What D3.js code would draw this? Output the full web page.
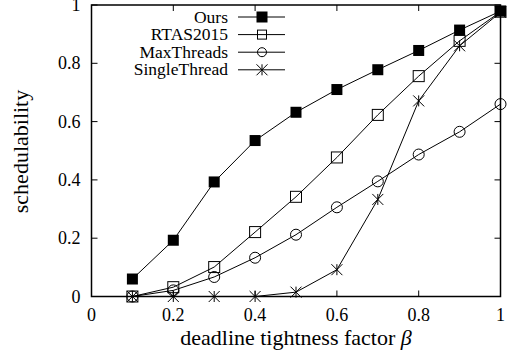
<!DOCTYPE html>
<html><head><meta charset="utf-8">
<script src="https://cdn.jsdelivr.net/npm/d3@7"></script>
<style>body{margin:0;background:#fff}svg{display:block}text{font-family:"Liberation Serif","Times New Roman",serif;fill:#000}</style>
</head><body><svg id="c" width="516" height="356"></svg>
<script>
const xs = [0.1,0.2,0.3,0.4,0.5,0.6,0.7,0.8,0.9,1.0];
const ours = [0.06,0.193,0.393,0.535,0.632,0.71,0.778,0.844,0.914,0.979];
const rtas = [0,0.032,0.101,0.221,0.342,0.477,0.623,0.756,0.877,0.977];
const maxThreads = [0,0.021,0.067,0.133,0.212,0.306,0.395,0.487,0.565,0.66];
const singleThread = [0,0,0,0,0.015,0.092,0.333,0.671,0.86,0.975];
const seriesNames = ["Ours","RTAS2015","MaxThreads","SingleThread"];
const markers = ["fsquare","square","circle","star"];
const xTicks = [0,0.2,0.4,0.6,0.8,1];
const yTicks = [0,0.2,0.4,0.6,0.8,1];
const xTitle = "deadline tightness factor ";
const yTitle = "schedulability";

const svg = d3.select("#c");
const L=91.5,R=500.5,T=5,B=296.5;
const x = d3.scaleLinear().domain([0,1]).range([L,R]);
const y = d3.scaleLinear().domain([0,1]).range([B,T]);
const fs = 18;

const g = svg.append("g");
xTicks.forEach(t=>{
  g.append("line").attr("x1",x(t)).attr("x2",x(t)).attr("y1",B).attr("y2",B-6).attr("stroke","#000");
  g.append("line").attr("x1",x(t)).attr("x2",x(t)).attr("y1",T).attr("y2",T+6).attr("stroke","#000");
  g.append("text").attr("x",x(t)).attr("y",B+24.5).attr("text-anchor","middle").attr("font-size",fs).text(d3.format("~g")(t));
});
yTicks.forEach(t=>{
  g.append("line").attr("x1",L).attr("x2",L+6).attr("y1",y(t)).attr("y2",y(t)).attr("stroke","#000");
  g.append("line").attr("x1",R).attr("x2",R-6).attr("y1",y(t)).attr("y2",y(t)).attr("stroke","#000");
  g.append("text").attr("x",L-11).attr("y",y(t)+6).attr("text-anchor","end").attr("font-size",fs).text(d3.format("~g")(t));
});
svg.append("rect").attr("x",L).attr("y",T).attr("width",R-L).attr("height",B-T).attr("fill","none").attr("stroke","#000").attr("stroke-width",1.5);

const xt = svg.append("text").attr("x",(L+R)/2).attr("y",345).attr("text-anchor","middle").attr("font-size",22).text(xTitle);
xt.append("tspan").attr("font-style","italic").text("β");
svg.append("text").attr("transform","translate(28,151.5) rotate(-90)").attr("text-anchor","middle").attr("font-size",22).text(yTitle);

const data = [ours,rtas,maxThreads,singleThread];
function drawMarker(sel,type,cx,cy){
  if(type==="fsquare") sel.append("rect").attr("x",cx-5.5).attr("y",cy-5.5).attr("width",11).attr("height",11).attr("fill","#000");
  else if(type==="square") sel.append("rect").attr("x",cx-5.5).attr("y",cy-5.5).attr("width",11).attr("height",11).attr("fill","none").attr("stroke","#000");
  else if(type==="circle") sel.append("circle").attr("cx",cx).attr("cy",cy).attr("r",5.5).attr("fill","none").attr("stroke","#000");
  else {
    const s=5.5;
    sel.append("path").attr("d",`M${cx-s},${cy-s}L${cx+s},${cy+s}M${cx-s},${cy+s}L${cx+s},${cy-s}M${cx},${cy-s}L${cx},${cy+s}`).attr("stroke","#000").attr("fill","none");
  }
}
const line = d3.line().x(d=>x(d[0])).y(d=>y(d[1]));
data.forEach((vals,i)=>{
  const pts = xs.map((v,j)=>[v,vals[j]]);
  const gs = svg.append("g");
  gs.append("path").attr("d",line(pts)).attr("fill","none").attr("stroke","#000").attr("stroke-width",1);
  pts.forEach(p=>drawMarker(gs,markers[i],x(p[0]),y(p[1])));
});

seriesNames.forEach((n,i)=>{
  const ly = 17 + i*17.6;
  svg.append("text").attr("x",228).attr("y",ly+5.5).attr("text-anchor","end").attr("font-size",17.5).text(n);
  svg.append("line").attr("x1",238).attr("x2",285).attr("y1",ly).attr("y2",ly).attr("stroke","#000");
  const gl = svg.append("g");
  if(i===1) gl.append("rect").attr("x",257.5).attr("y",ly-4.5).attr("width",9).attr("height",9).attr("fill","none").attr("stroke","#000");
  else if(i===2) gl.append("circle").attr("cx",262).attr("cy",ly).attr("r",4.5).attr("fill","none").attr("stroke","#000");
  else drawMarker(gl,markers[i],262,ly);
});
</script></body></html>
